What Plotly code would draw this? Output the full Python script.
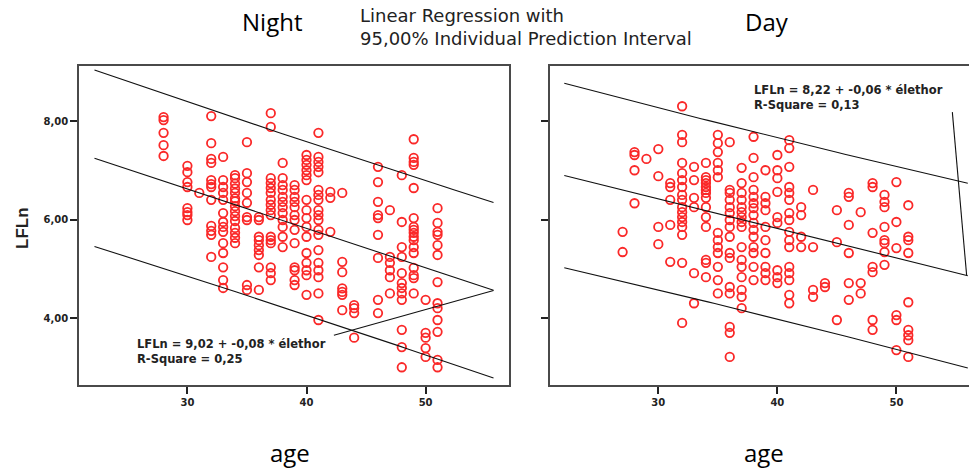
import numpy as np
import plotly.graph_objects as go

# ---------------- data ----------------
night_col_ages = [28, 30, 31, 32, 33, 34, 35, 36, 37, 38, 39, 40, 41, 42, 43, 44, 46, 47, 48, 49, 50, 51]
night_col_vals = [
    [8.08, 8.02, 7.76, 7.51, 7.29],
    [7.09, 6.96, 6.76, 6.66, 6.23, 6.15, 6.09, 5.99],
    [6.54],
    [8.10, 7.55, 7.23, 7.15, 6.80, 6.72, 6.66, 6.40, 5.87, 5.77, 5.69, 5.24],
    [7.27, 6.80, 6.66, 6.54, 6.40, 6.13, 5.95, 5.85, 5.75, 5.52, 5.32, 5.03, 4.77, 4.61],
    [6.90, 6.84, 6.73, 6.63, 6.54, 6.43, 6.37, 6.27, 6.17, 6.07, 5.97, 5.83, 5.73, 5.63, 5.52],
    [7.57, 6.94, 6.76, 6.54, 6.34, 6.05, 5.99, 4.67, 4.57],
    [6.05, 5.99, 5.65, 5.58, 5.48, 5.38, 5.28, 5.03, 4.57],
    [8.16, 7.88, 6.84, 6.74, 6.64, 6.54, 6.40, 6.30, 6.19, 6.09, 5.65, 5.58, 5.52, 5.03, 4.91, 4.77],
    [7.15, 6.84, 6.70, 6.60, 6.46, 6.36, 6.25, 6.13, 5.99, 5.85, 5.65, 5.44],
    [6.70, 6.60, 6.46, 6.36, 6.25, 6.09, 5.99, 5.79, 5.52, 5.03, 4.97, 4.77, 4.67],
    [7.31, 7.21, 7.11, 7.00, 6.90, 6.80, 6.40, 6.19, 6.03, 5.85, 5.65, 5.32, 5.12, 4.97, 4.87, 4.47],
    [7.76, 7.27, 7.17, 7.07, 6.96, 6.60, 6.50, 6.40, 6.19, 6.09, 5.99, 5.79, 5.69, 5.38, 5.12, 4.97, 4.83, 4.50, 3.96],
    [6.56, 6.44, 5.75],
    [6.54, 5.14, 4.93, 4.60, 4.53, 4.47, 4.16],
    [4.26, 4.20, 4.10, 3.60],
    [7.07, 6.76, 6.36, 6.09, 6.03, 5.69, 5.22, 4.37, 4.10],
    [6.19, 5.24, 5.12, 4.97, 4.83, 4.50],
    [6.90, 5.95, 5.44, 5.24, 4.91, 4.71, 4.61, 4.50, 4.37, 3.76, 3.41, 3.00],
    [7.63, 7.25, 7.17, 7.11, 6.64, 6.03, 5.85, 5.79, 5.73, 5.65, 5.58, 5.44, 5.32, 5.02, 4.87, 4.81, 4.50],
    [4.37, 3.70, 3.60, 3.39, 3.21],
    [6.23, 5.93, 5.75, 5.69, 5.48, 5.28, 4.73, 4.30, 4.20, 3.96, 3.72, 3.15, 3.00],
]

day_col_ages = [27, 28, 29, 30, 31, 32, 33, 34, 35, 36, 37, 38, 39, 40, 41, 42, 43, 44, 45, 46, 47, 48, 49, 50, 51]
day_col_vals = [
    [5.75, 5.34],
    [7.37, 7.31, 7.00, 6.33],
    [7.23],
    [7.43, 6.88, 5.85, 5.50],
    [6.74, 6.66, 6.40, 5.89, 5.14],
    [8.30, 7.72, 7.57, 7.15, 6.94, 6.80, 6.66, 6.50, 6.40, 6.25, 6.15, 6.05, 5.95, 5.85, 5.69, 5.12, 3.90],
    [7.07, 6.80, 6.44, 6.25, 4.91, 4.30],
    [7.15, 6.86, 6.80, 6.74, 6.66, 6.60, 6.54, 6.44, 6.25, 6.05, 5.85, 5.18, 5.12, 4.83],
    [7.72, 7.55, 7.37, 7.15, 7.00, 6.86, 5.73, 5.58, 5.44, 5.32, 5.04, 4.77, 4.50],
    [7.57, 6.60, 6.54, 6.40, 6.25, 6.13, 5.99, 5.85, 5.65, 5.32, 5.22, 4.63, 4.50, 3.82, 3.70, 3.21],
    [7.05, 6.74, 6.54, 6.40, 6.25, 6.15, 6.05, 5.95, 5.85, 5.44, 5.18, 5.04, 4.83, 4.57, 4.43, 4.20],
    [7.68, 7.25, 6.86, 6.60, 6.46, 6.33, 6.23, 6.09, 5.93, 5.79, 5.65, 5.44, 5.32, 5.04, 4.77],
    [7.00, 6.46, 6.33, 6.19, 5.85, 5.58, 5.32, 5.04, 4.91, 4.77],
    [7.31, 7.00, 6.84, 6.56, 6.05, 5.93, 4.97, 4.83, 4.71],
    [7.61, 7.45, 7.07, 6.66, 6.54, 6.40, 6.13, 5.99, 5.75, 5.58, 5.44, 5.04, 4.91, 4.77, 4.47, 4.30],
    [6.25, 6.09, 5.65, 5.44],
    [6.60, 5.44, 4.57, 4.43],
    [4.71, 4.63],
    [6.19, 5.54, 3.96],
    [6.54, 6.46, 5.89, 5.32, 4.71, 4.37],
    [6.15, 4.71, 4.50],
    [6.74, 6.66, 5.73, 5.04, 4.93, 3.96, 3.76],
    [6.50, 6.36, 6.25, 5.85, 5.58, 5.52, 5.34, 5.08],
    [6.76, 5.95, 5.42, 4.06, 3.96, 3.35],
    [6.29, 5.65, 5.58, 5.32, 4.32, 3.76, 3.65, 3.55, 3.21],
]

# regression equations printed on the chart, and the 95% prediction half-width
night_b0, night_b1, night_r2 = 9.02, -0.08, 0.25
day_b0, day_b1, day_r2 = 8.22, -0.06, 0.13
night_pi_half = 1.76
day_pi_half = 1.84
night_line_ages = [22.2, 55.7]
day_line_ages = [22.1, 56.0]

# stray closing strokes visible in the scan
night_stray_age = [55.7, 42.3]
night_stray_val = [4.56, 3.65]
day_stray_age = [54.7, 55.9]
day_stray_val = [8.18, 4.87]

y_tick_vals = [4, 6, 8]
y_tick_text = ["4,00", "6,00", "8,00"]
x_tick_vals = [30, 40, 50]
x_tick_text = ["30", "40", "50"]

# ---------------- helpers ----------------
W, H = 969, 470
def fx(x): return x / W
def fy(y): return 1 - y / H

def flatten(ages, vals):
    xs, ys = [], []
    for a, vs in zip(ages, vals):
        xs += [a] * len(vs)
        ys += list(vs)
    return np.array(xs, float), np.array(ys, float)

def pi_lines(x, b0, b1, half, ends):
    n = len(x)
    xb = x.mean(); sxx = ((x - xb) ** 2).sum()
    g = np.linspace(ends[0], ends[1], 60)
    fit = b0 + b1 * g
    k = np.sqrt(1 + 1 / n + (g - xb) ** 2 / sxx) / np.sqrt(1 + 1 / n)
    hw = half * k
    return g, fit, fit - hw, fit + hw

nx, ny = flatten(night_col_ages, night_col_vals)
dx, dy = flatten(day_col_ages, day_col_vals)

fig = go.Figure()
red = "rgb(250,40,40)"
mk = dict(symbol="circle-open", size=8.5, color=red, line=dict(width=1.8, color=red))
lk = dict(color="#111111", width=1.1)

for (x, y, b0, b1, half, ends, sa, sv, xa, ya) in [
    (nx, ny, night_b0, night_b1, night_pi_half, night_line_ages, night_stray_age, night_stray_val, "x", "y"),
    (dx, dy, day_b0, day_b1, day_pi_half, day_line_ages, day_stray_age, day_stray_val, "x2", "y2"),
]:
    fig.add_trace(go.Scatter(x=x, y=y, mode="markers", marker=mk, xaxis=xa, yaxis=ya, showlegend=False))
    g, fit, lo, hi = pi_lines(x, b0, b1, half, ends)
    for arr in (fit, lo, hi):
        fig.add_trace(go.Scatter(x=g, y=arr, mode="lines", line=lk, xaxis=xa, yaxis=ya, showlegend=False))
    fig.add_trace(go.Scatter(x=sa, y=sv, mode="lines", line=lk, xaxis=xa, yaxis=ya, showlegend=False))

tickfont = dict(family="DejaVu Sans", size=10, color="#222222")
axcommon = dict(showgrid=False, zeroline=False, showline=True, linecolor="#4a4a4a", linewidth=1.6,
                ticks="outside", ticklen=7, tickwidth=2, tickcolor="#222222", tickfont=tickfont)

fig.update_layout(
    width=W, height=H, margin=dict(l=0, r=0, t=0, b=0),
    paper_bgcolor="white", plot_bgcolor="white",
    xaxis=dict(domain=[fx(79), fx(509)], range=[20.9, 57.0], tickvals=x_tick_vals,
               ticktext=["<b>%s</b>" % t for t in x_tick_text], mirror=True, anchor="y", **axcommon),
    yaxis=dict(domain=[fy(385), fy(66)], range=[2.64, 9.117], tickvals=y_tick_vals,
               ticktext=["<b>%s</b>" % t for t in y_tick_text], mirror=True, anchor="x", **axcommon),
    xaxis2=dict(domain=[fx(550), 1.0], range=[20.9, 56.1], tickvals=x_tick_vals,
                ticktext=["<b>%s</b>" % t for t in x_tick_text], mirror=True, anchor="y2", **axcommon),
    yaxis2=dict(domain=[fy(385), fy(66)], range=[2.64, 9.117], tickvals=y_tick_vals,
                showticklabels=False, mirror=False, anchor="x2", **axcommon),
)

big = dict(family="Open Sans", size=24, color="black")
ann = [
    dict(x=fx(272), y=fy(22), text="Night", font=big),
    dict(x=fx(767), y=fy(22), text="Day", font=big),
    dict(x=fx(290), y=fy(452), text="age", font=big),
    dict(x=fx(764), y=fy(452), text="age", font=big),
    dict(x=fx(358), y=fy(27), text="Linear Regression with<br>95,00% Individual Prediction Interval",
         xanchor="left", align="left", font=dict(family="DejaVu Sans", size=18, color="#222222")),
    dict(x=fx(22), y=fy(228), text="<b>LFLn</b>", textangle=-90,
         font=dict(family="Liberation Sans", size=17, color="#222222")),
    dict(x=fx(135), y=fy(351), xanchor="left", align="left",
         text="<b>LFLn = 9,02 + -0,08 * élethor<br>R-Square = 0,25</b>",
         font=dict(family="DejaVu Sans", size=11.5, color="#222222")),
    dict(x=fx(752), y=fy(97), xanchor="left", align="left",
         text="<b>LFLn = 8,22 + -0,06 * élethor<br>R-Square = 0,13</b>",
         font=dict(family="DejaVu Sans", size=11.5, color="#222222")),
]
for a in ann:
    a.setdefault("xanchor", "center")
    a.update(xref="paper", yref="paper", showarrow=False, yanchor="middle")
    fig.add_annotation(**a)

fig.write_html("out.html")
